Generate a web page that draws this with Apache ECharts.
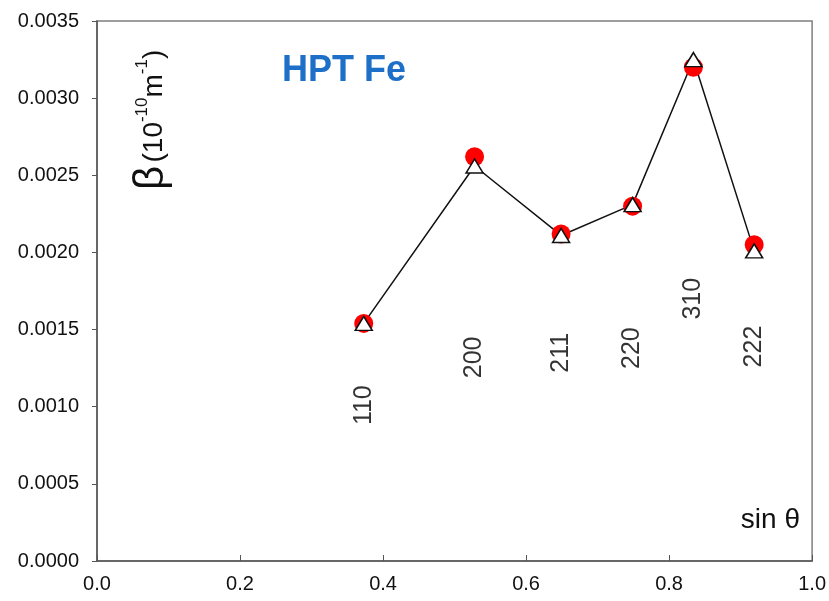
<!DOCTYPE html>
<html><head><meta charset="utf-8">
<script src="https://cdn.jsdelivr.net/npm/echarts@6/dist/echarts.min.js"></script>
<style>html,body{margin:0;padding:0;background:#fff}#c{width:829px;height:601px}</style>
</head><body><div id="c"></div>
<script>
const sinTheta = [0.373, 0.528, 0.649, 0.749, 0.834, 0.919];
const betaCircle = [0.00154, 0.00262, 0.00212, 0.00230, 0.00320, 0.00205];
const betaTriangle = [0.00154, 0.00256, 0.00211, 0.00231, 0.00325, 0.00201];
const hklLabels = ['110', '200', '211', '220', '310', '222'];
const hklLabelY = [0.00101, 0.00132, 0.00135, 0.00138, 0.00170, 0.00139];
const yTicks = [0, 0.0005, 0.001, 0.0015, 0.002, 0.0025, 0.003, 0.0035];

const FONT = '"Liberation Sans", Arial, sans-serif';
const chart = echarts.init(document.getElementById('c'));
chart.setOption({
  animation: false,
  backgroundColor: '#fff',
  title: {
    text: 'HPT Fe', left: 277, top: 48,
    textStyle: { fontFamily: FONT, fontSize: 36, fontWeight: 'bold', color: '#1e6fc8' }
  },
  grid: { left: 97, top: 21, right: 13, bottom: 40, show: true, borderColor: '#7f7f7f', borderWidth: 1.5 },
  xAxis: {
    type: 'value', min: 0, max: 1, interval: 0.2,
    axisLine: { show: true, lineStyle: { color: '#555', width: 1.5 } },
    axisTick: { show: true, inside: true, length: 6, lineStyle: { color: '#555' } },
    axisLabel: { formatter: v => v.toFixed(1), fontFamily: FONT, fontSize: 20, color: '#111', margin: 13 },
    splitLine: { show: false }
  },
  yAxis: {
    type: 'value', min: 0, max: yTicks[yTicks.length - 1], interval: 0.0005,
    axisLine: { show: true, lineStyle: { color: '#555', width: 1.5 } },
    axisTick: { show: true, inside: false, length: 5, lineStyle: { color: '#555' } },
    axisLabel: { formatter: v => v.toFixed(4), fontFamily: FONT, fontSize: 20, color: '#111', margin: 18 },
    splitLine: { show: false }
  },
  graphic: [
    {
      type: 'text', x: 130, y: 190, rotation: Math.PI / 2,
      style: {
        text: '{b|β} {p|(10}{s|-10}{p|m}{s|-1}{p|)}',
        rich: {
          b: { fontFamily: FONT, fontSize: 42, fill: '#111', verticalAlign: 'bottom' },
          p: { fontFamily: FONT, fontSize: 28, fill: '#111', verticalAlign: 'bottom', padding: [0, 0, 4, 0] },
          s: { fontFamily: FONT, fontSize: 17, fill: '#111', verticalAlign: 'bottom', padding: [0, 0, 21, 0] }
        }
      }
    },
    {
      type: 'text', right: 29, top: 506,
      style: { text: 'sin θ', fontFamily: FONT, fontSize: 28, fill: '#111' }
    }
  ],
  series: [
    {
      type: 'line', data: sinTheta.map((x, i) => [x, betaTriangle[i]]),
      symbol: 'none', lineStyle: { color: '#111', width: 1.5 }, z: 2
    },
    {
      type: 'scatter', data: sinTheta.map((x, i) => [x, betaCircle[i]]),
      symbol: 'circle', symbolSize: 19, itemStyle: { color: '#ff0000', opacity: 1 }, z: 3
    },
    {
      type: 'scatter', data: sinTheta.map((x, i) => [x, betaTriangle[i]]),
      symbol: 'triangle', symbolSize: [17, 14],
      itemStyle: { color: '#fff', borderColor: '#111', borderWidth: 1.5, opacity: 1 }, z: 4
    },
    {
      type: 'scatter', data: sinTheta.map((x, i) => [x, hklLabelY[i], hklLabels[i]]),
      symbol: 'circle', symbolSize: 2, silent: true,
      itemStyle: { color: 'rgba(0,0,0,0)' },
      label: {
        show: true, position: 'inside', rotate: 90, formatter: p => p.data[2],
        fontFamily: FONT, fontSize: 25, color: '#000', textBorderWidth: 0
      }, z: 5
    }
  ]
});
</script></body></html>
